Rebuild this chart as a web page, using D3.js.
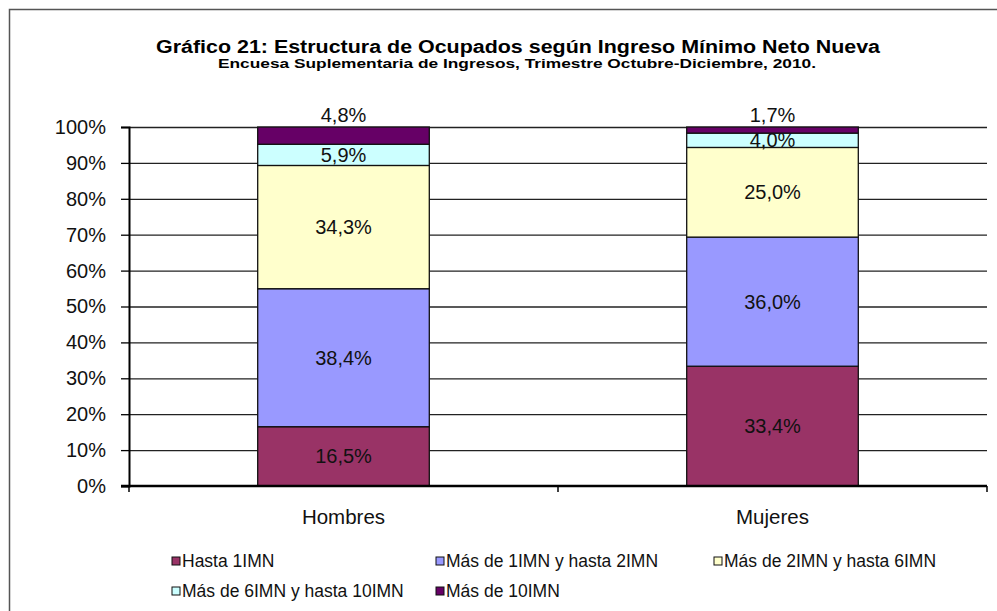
<!DOCTYPE html>
<html>
<head>
<meta charset="utf-8">
<script src="https://cdn.jsdelivr.net/npm/d3@7"></script>
<style>
  body { margin: 0; background: #fff; }
  svg { display: block; font-family: Arial, "Liberation Sans", sans-serif; }
</style>
</head>
<body>
<div id="chart"></div>
<script>
// data
var categories = ["Hombres", "Mujeres"];
var seriesNames = ["Hasta 1IMN", "Más de 1IMN y hasta 2IMN", "Más de 2IMN y hasta 6IMN",
                   "Más de 6IMN y hasta 10IMN", "Más de 10IMN"];
var seriesColors = ["#993366", "#9999ff", "#ffffcc", "#ccffff", "#660066"];
var hombres = [16.5, 38.4, 34.3, 5.9, 4.8];
var mujeres = [33.4, 36.0, 25.0, 4.0, 1.7];
var yTicks = [0, 10, 20, 30, 40, 50, 60, 70, 80, 90, 100];
var title = "Gráfico 21: Estructura  de Ocupados  según Ingreso Mínimo Neto Nueva";
var subtitle = "Encuesa Suplementaria de Ingresos, Trimestre Octubre-Diciembre, 2010.";

var W = 997, H = 611;
var svg = d3.select("#chart").append("svg")
    .attr("width", W)
    .attr("height", H);

// outer chart frame
svg.append("rect")
    .attr("x", 9.5).attr("y", 9.5)
    .attr("width", W + 20).attr("height", H + 20)
    .attr("fill", "#fff")
    .attr("stroke", "#555")
    .attr("stroke-width", 1.5);

svg.append("text")
    .attr("x", 518).attr("y", 53)
    .attr("text-anchor", "middle")
    .attr("font-size", 18).attr("font-weight", "bold")
    .attr("textLength", 724).attr("lengthAdjust", "spacingAndGlyphs")
    .text(title);
svg.append("text")
    .attr("x", 517).attr("y", 68)
    .attr("text-anchor", "middle")
    .attr("font-size", 13.5).attr("font-weight", "bold")
    .attr("textLength", 598).attr("lengthAdjust", "spacingAndGlyphs")
    .text(subtitle);

var plot = { left: 129, right: 987, top: 127, bottom: 486 };

var x = d3.scaleBand()
    .domain(categories)
    .range([plot.left, plot.right])
    .paddingInner(0.6)
    .paddingOuter(0.3);

var y = d3.scaleLinear()
    .domain([0, 100])
    .range([plot.bottom, plot.top]);

// gridlines
svg.append("g")
    .selectAll("line")
    .data(yTicks.filter(function (d) { return d > 0; }))
    .enter().append("line")
    .attr("x1", plot.left).attr("x2", plot.right)
    .attr("y1", function (d) { return y(d) + 0.5; })
    .attr("y2", function (d) { return y(d) + 0.5; })
    .attr("stroke", "#222")
    .attr("stroke-width", 1.3);

// stacked (100%) bars
var rows = categories.map(function (c, i) {
    var vals = i === 0 ? hombres : mujeres;
    var total = d3.sum(vals);
    var row = { cat: c };
    seriesNames.forEach(function (s, j) { row[s] = vals[j] / total * 100; row["raw" + j] = vals[j]; });
    return row;
});
var stack = d3.stack().keys(seriesNames);
var layers = stack(rows);

var g = svg.append("g");
layers.forEach(function (layer, j) {
    g.selectAll(".seg" + j)
        .data(layer)
        .enter().append("rect")
        .attr("x", function (d) { return x(d.data.cat); })
        .attr("width", x.bandwidth())
        .attr("y", function (d) { return y(d[1]); })
        .attr("height", function (d) { return y(d[0]) - y(d[1]); })
        .attr("fill", seriesColors[j])
        .attr("stroke", "#111")
        .attr("stroke-width", 1.3);
});

// data labels
layers.forEach(function (layer, j) {
    g.selectAll(".lab" + j)
        .data(layer)
        .enter().append("text")
        .attr("x", function (d) { return x(d.data.cat) + x.bandwidth() / 2; })
        .attr("y", function (d) {
            if (j === 4) return y(d[1]) - 5; // top segment label sits above bar
            return (y(d[0]) + y(d[1])) / 2 + 7;
        })
        .attr("text-anchor", "middle")
        .attr("font-size", 20)
        .attr("fill", "#111")
        .text(function (d) { return d3.format(".1f")(d.data["raw" + j]).replace(".", ",") + "%"; });
});

// y axis
var yAxis = svg.append("g")
    .attr("transform", "translate(" + plot.left + ",0)")
    .call(d3.axisLeft(y).tickValues(yTicks).tickSize(8).tickPadding(15)
        .tickFormat(function (d) { return d + "%"; }));
yAxis.select(".domain").attr("stroke", "#000").attr("stroke-width", 2);
yAxis.selectAll(".tick line").attr("stroke", "#000").attr("stroke-width", 1.3);
yAxis.selectAll("text").attr("font-size", 20).attr("fill", "#111")
    .attr("font-family", "Arial, 'Liberation Sans', sans-serif");

// x axis
var xAxis = svg.append("g")
    .attr("transform", "translate(0," + plot.bottom + ")");
xAxis.append("line")
    .attr("x1", plot.left - 8).attr("x2", plot.right)
    .attr("stroke", "#000").attr("stroke-width", 2.5);
xAxis.selectAll(".xt")
    .data([plot.left + x.step() * 0.0, plot.left + x.step(), plot.right])
    .enter().append("line")
    .attr("x1", function (d) { return d; }).attr("x2", function (d) { return d; })
    .attr("y1", 0).attr("y2", 6)
    .attr("stroke", "#000").attr("stroke-width", 1.5);
xAxis.selectAll(".xl")
    .data(categories)
    .enter().append("text")
    .attr("x", function (d) { return x(d) + x.bandwidth() / 2; })
    .attr("y", 38)
    .attr("text-anchor", "middle")
    .attr("font-size", 20.5)
    .attr("fill", "#111")
    .text(function (d) { return d; });

// legend
var legendPos = [
    { x: 172, y: 563 }, { x: 436, y: 563 }, { x: 714, y: 563 },
    { x: 172, y: 593 }, { x: 436, y: 593 }
];
var leg = svg.append("g");
seriesNames.forEach(function (s, j) {
    var p = legendPos[j];
    leg.append("rect")
        .attr("x", p.x).attr("y", p.y - 6)
        .attr("width", 8).attr("height", 8)
        .attr("fill", seriesColors[j])
        .attr("stroke", "#111").attr("stroke-width", 1);
    leg.append("text")
        .attr("x", p.x + 10).attr("y", p.y + 4)
        .attr("font-size", 17.5)
        .attr("fill", "#111")
        .text(s);
});
</script>
</body>
</html>
